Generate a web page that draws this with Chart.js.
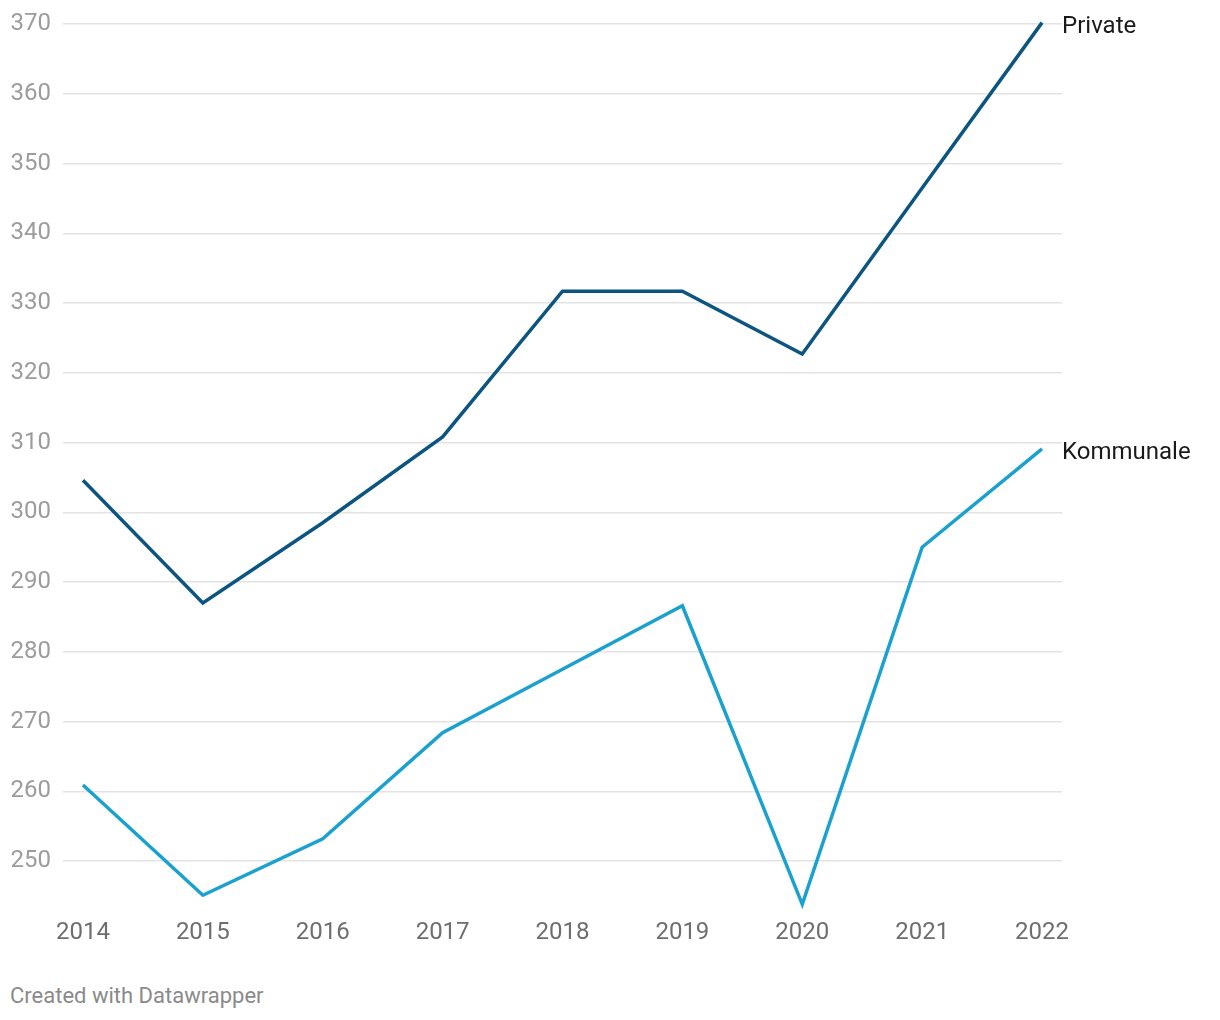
<!DOCTYPE html>
<html>
<head>
<meta charset="utf-8">
<script src="https://cdn.jsdelivr.net/npm/chart.js@4"></script>
<style>
  body { margin: 0; background: #fff; font-family: Roboto, sans-serif; }
  #wrap { position: relative; width: 1220px; height: 1020px; }
  #footer { position: absolute; left: 10px; top: 983px; font-size: 22px; color: #8a8a8a; }
</style>
</head>
<body>
<div id="wrap">
  <canvas id="chart" width="1220" height="960"></canvas>
  <div id="footer">Created with Datawrapper</div>
</div>
<script>
const years = [2014, 2015, 2016, 2017, 2018, 2019, 2020, 2021, 2022];
const privateValues = [304.6, 287.0, 298.5, 310.8, 331.7, 331.7, 322.7, 346.5, 370.2];
const kommunaleValues = [260.9, 245.1, 253.2, 268.4, 277.5, 286.6, 243.8, 295.0, 309.1];
const yTicks = [250, 260, 270, 280, 290, 300, 310, 320, 330, 340, 350, 360, 370];
const seriesNames = ['Private', 'Kommunale'];

const ctx = document.getElementById('chart');

function toPoints(values) {
    return years.map((y, i) => ({ x: y, y: values[i] }));
}

// labels at the end of each line
const endLabels = {
    id: 'endLabels',
    afterDatasetsDraw(chart) {
        const c = chart.ctx;
        c.save();
        c.font = '24px Roboto';
        c.fillStyle = '#1a1a1a';
        c.textBaseline = 'middle';
        c.textAlign = 'left';
        chart.data.datasets.forEach((ds, i) => {
            const meta = chart.getDatasetMeta(i);
            const last = meta.data[meta.data.length - 1];
            c.fillText(ds.label, last.x + 20, last.y + 4);
        });
        c.restore();
    }
};

new Chart(ctx, {
    type: 'line',
    data: {
        datasets: [{
            label: seriesNames[0],
            data: toPoints(privateValues),
            borderColor: '#0b5580',
            borderWidth: 3.5,
            pointRadius: 0,
            tension: 0,
            clip: false
        }, {
            label: seriesNames[1],
            data: toPoints(kommunaleValues),
            borderColor: '#1ba1cf',
            borderWidth: 3.5,
            pointRadius: 0,
            tension: 0,
            clip: false
        }]
    },
    options: {
        responsive: false,
        animation: false,
        layout: { padding: { top: 24, right: 158, left: 0, bottom: 0 } },
        plugins: {
            legend: { display: false },
            tooltip: { enabled: false }
        },
        scales: {
            x: {
                type: 'linear',
                min: 2014 - 20 / 120,
                max: 2022 + 20 / 120,
                grid: { display: false, drawTicks: false },
                border: { display: false },
                afterBuildTicks: axis => { axis.ticks = years.map(v => ({ value: v })); },
                afterFit: axis => {
                    axis.height = 55;
                    axis.paddingLeft = 0;
                    axis.paddingRight = 0;
                },
                ticks: {
                    padding: 14,
                    color: '#6e6e6e',
                    font: { family: 'Roboto', size: 24 },
                    maxRotation: 0,
                    callback: v => String(v)
                }
            },
            y: {
                min: 243.7,
                max: 370,
                grid: { color: '#e3e3e3', lineWidth: 1.5, drawTicks: false },
                border: { display: false },
                afterBuildTicks: axis => { axis.ticks = yTicks.map(v => ({ value: v })); },
                afterFit: axis => {
                    axis.width = 63;
                    axis.paddingTop = 0;
                    axis.paddingBottom = 0;
                },
                ticks: {
                    padding: 12,
                    color: '#9c9c9c',
                    font: { family: 'Roboto', size: 24 }
                }
            }
        }
    },
    plugins: [endLabels]
});
</script>
</body>
</html>
